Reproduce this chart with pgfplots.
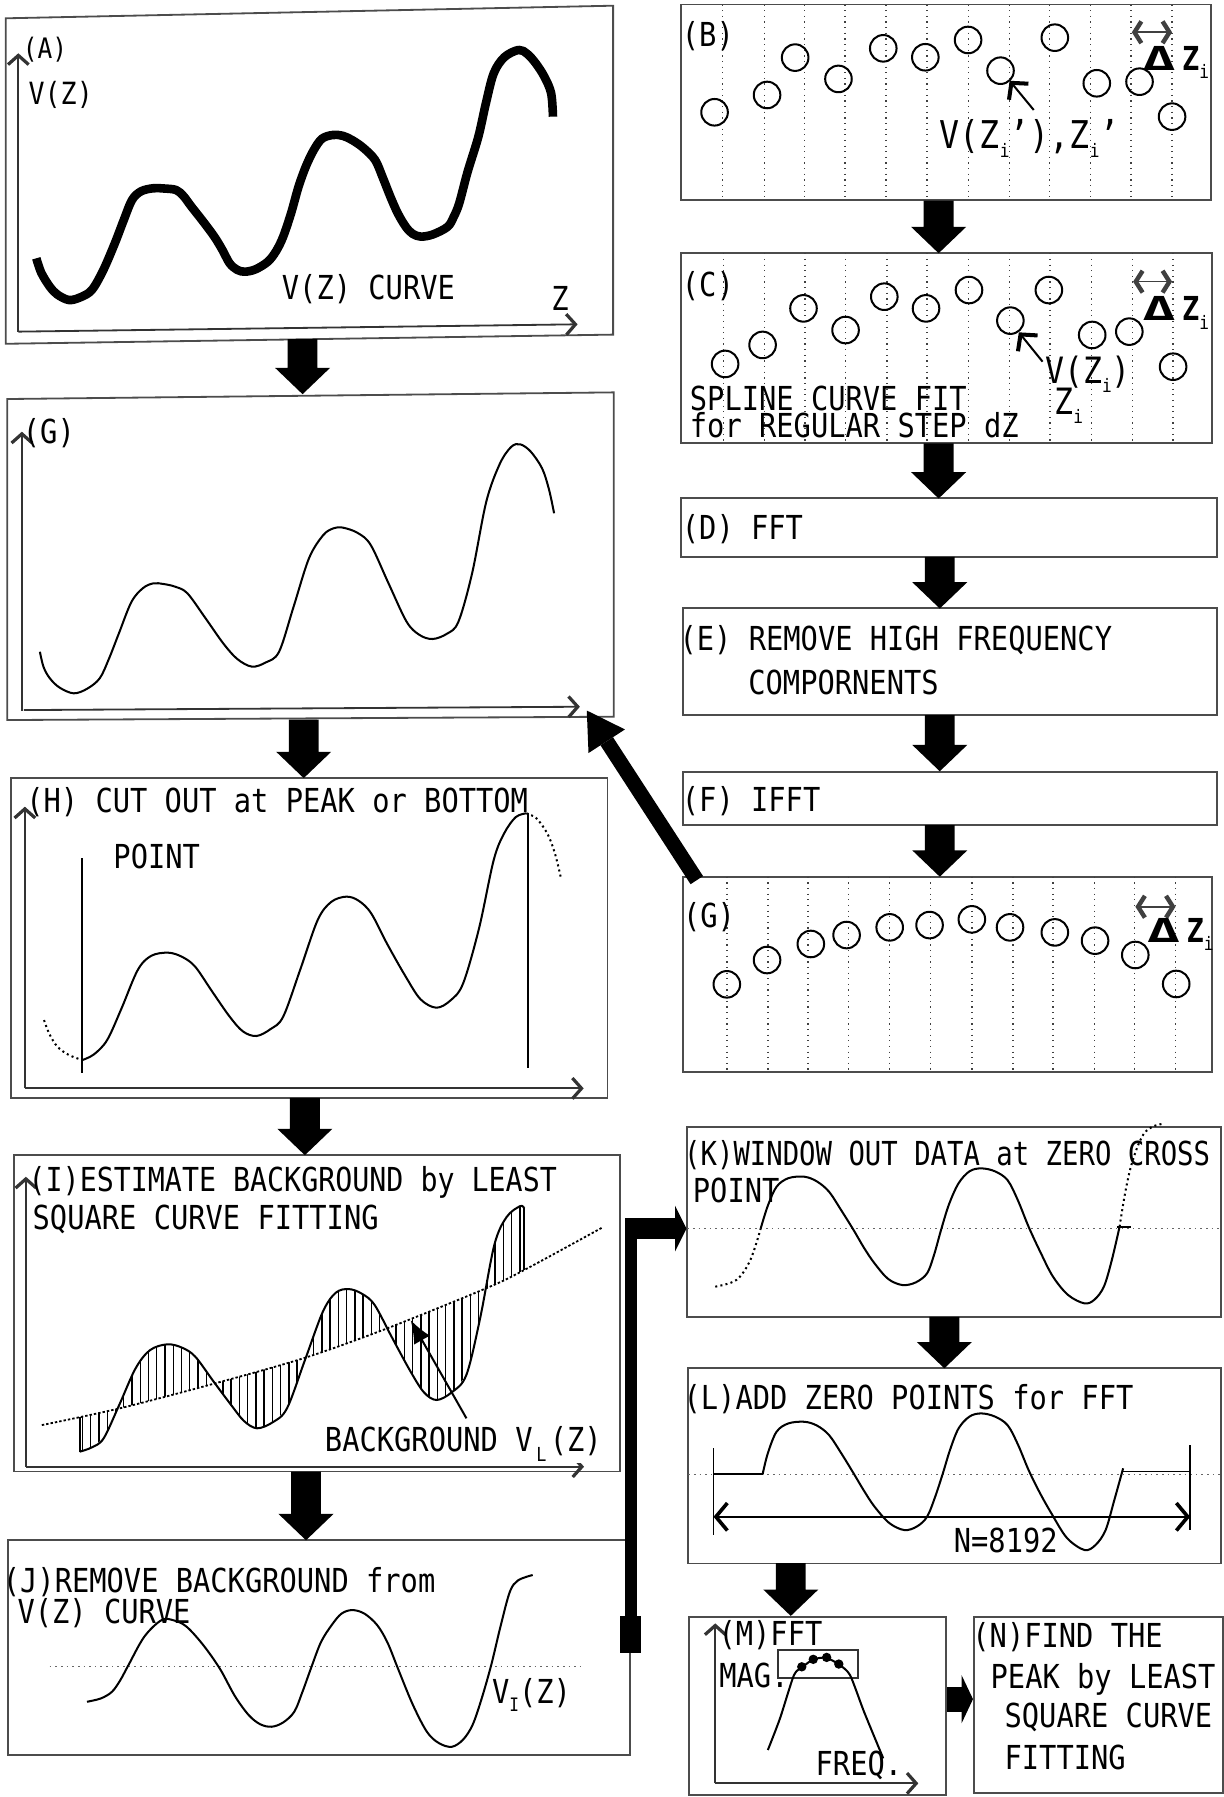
\documentclass[border=0pt]{standalone}
\usepackage{pgfplots}
\pgfplotsset{compat=1.18}
\usepgfplotslibrary{fillbetween}
\usetikzlibrary{arrows.meta,patterns.meta}
\usepackage{fontspec}
\setmainfont{DejaVu Sans Mono}[FakeStretch=0.87]
\newcommand{\ft}{\fontsize{8.2pt}{9pt}\selectfont}
\newcommand{\sbs}[1]{\raisebox{-0.25em}{\fontsize{4.6pt}{5pt}\selectfont #1}}
\newcommand{\ssl}[1]{\rlap{\raisebox{-0.32em}{\fontsize{4.8pt}{5pt}\selectfont\hspace{0.2em}#1}}\hphantom{#1}}
\newcommand{\dz}{\textbf{\scalebox{1.9}[1.0]{Δ}\hspace{0.2em}Z}\sbs{i}}
\tikzset{
  t/.style={font=\ft, inner sep=0pt, outer sep=0pt, anchor=base west},
  box/.style={draw=black!70, line width=0.45pt},
  crv/.style={line width=0.5pt, black, smooth, tension=0.55},
  grd/.style={line width=0.4pt, black!75, dash pattern=on 0.3pt off 1.1pt},
  zer/.style={line width=0.35pt, black!60, dash pattern=on 0.4pt off 1pt},
  axa/.style={line width=0.45pt, black!80, -{Straight Barb[length=0.8mm,width=1.8mm,line width=0.8pt]}},
  dza/.style={line width=0.4pt, black!75, {Straight Barb[length=0.6mm,width=1.9mm,line width=1.1pt]}-{Straight Barb[length=0.6mm,width=1.9mm,line width=1.1pt]}},
  circ/.style={only marks, mark=o, mark size=3.3pt, mark options={line width=0.5pt, black}},
}
\newcommand{\darrow}[3]{%
\fill ([xshift=-1.3mm]axis cs:#1,#2) -- ([xshift=1.3mm]axis cs:#1,#2) -- ([shift={(1.3mm,2.3mm)}]axis cs:#1,#3) -- ([shift={(2.4mm,2.3mm)}]axis cs:#1,#3) -- (axis cs:#1,#3) -- ([shift={(-2.4mm,2.3mm)}]axis cs:#1,#3) -- ([shift={(-1.3mm,2.3mm)}]axis cs:#1,#3) -- cycle;}
\begin{document}
\begin{tikzpicture}
\begin{axis}[width=106.8mm, height=156.8mm, scale only axis,
  xmin=0, xmax=1068, ymin=0, ymax=1568, y dir=reverse,
  hide axis, clip=false]

% ---------------- boxes ----------------
\draw[box] (axis cs:5,16) -- (axis cs:535,5) -- (axis cs:535,292) -- (axis cs:5,300) -- cycle;
\draw[box] (axis cs:594,4) rectangle (axis cs:1057,174.5);
\draw[box] (axis cs:594.5,221) rectangle (axis cs:1057.6,386.8);
\draw[box] (axis cs:594.5,434.8) rectangle (axis cs:1061.8,485.8);
\draw[box] (axis cs:595.7,530.8) rectangle (axis cs:1061.8,624);
\draw[box] (axis cs:595.7,673.4) rectangle (axis cs:1061.8,719.9);
\draw[box] (axis cs:595.7,765) rectangle (axis cs:1057.8,935.1);
\draw[box] (axis cs:6.3,348.2) -- (axis cs:535.6,342.4) -- (axis cs:535.6,625.4) -- (axis cs:6.3,628.3) -- cycle;
\draw[box] (axis cs:9.3,679.2) rectangle (axis cs:530,958);
\draw[box] (axis cs:12.2,1007.9) rectangle (axis cs:540.9,1284);
\draw[box] (axis cs:7.2,1343.8) rectangle (axis cs:549.8,1531.4);
\draw[box] (axis cs:599.7,983.1) rectangle (axis cs:1065.4,1148.9);
\draw[box] (axis cs:600.6,1194) rectangle (axis cs:1065.4,1364.2);
\draw[box] (axis cs:601.2,1410.7) rectangle (axis cs:825.7,1566.3);
\draw[box] (axis cs:850.1,1410.7) rectangle (axis cs:1067,1564.8);

% ---------------- block arrows ----------------
\darrow{264}{296}{344}
\darrow{819}{175}{221}
\darrow{819}{387}{435}
\darrow{820}{486}{531}
\darrow{820}{624}{673}
\darrow{820}{720}{765}
\darrow{265}{628}{679}
\darrow{266}{958}{1008}
\darrow{267}{1284}{1344}
\darrow{824}{1149}{1194}
\darrow{690}{1364}{1410}
% diagonal arrow G(right) -> G(left)
\draw[line width=1.3mm] (axis cs:608,768) -- (axis cs:529.4,646.8);
\fill (axis cs:512,620) -- (axis cs:545.3,636.5) -- (axis cs:513.5,657.1) -- cycle;
% J -> K connector
\fill (axis cs:541,1442) rectangle (axis cs:559,1410);
\fill (axis cs:545,1415) rectangle (axis cs:556,1063);
\fill (axis cs:545,1063) rectangle (axis cs:590,1081);
\fill (axis cs:589,1052) -- (axis cs:599,1072) -- (axis cs:589,1092) -- cycle;
% M -> N
\fill (axis cs:826,1471.6) rectangle (axis cs:839.4,1493.4);
\fill (axis cs:839,1461.6) -- (axis cs:849,1482.6) -- (axis cs:839,1503.8) -- cycle;

% ---------------- panel A ----------------
\addplot[axa] coordinates {(16,289.4) (16,46.5)};
\addplot[axa] coordinates {(16,289.4) (504,283)};
\addplot[line width=0.75mm, black, smooth, tension=0.55, line join=round] coordinates {
(31.7,225.4) (36,238) (43.4,250.1) (50,257) (60.1,261.8) (70,259.5) (80.1,253.1) (90,236) (100.2,212.3) (108,192) (115.2,174.5) (123,167) (133.6,164.3) (143,164.5) (153.6,165.8) (160,171) (167,180.3) (177,193) (187,206.5) (194,218) (200.4,229.8) (207,235.5) (213.7,237.1) (223,235) (233.8,228.3) (241,219) (247.1,206.5) (254,186) (260.5,162.9) (267,145) (273.8,130.9) (281,121) (290.5,117.8) (299,118.5) (307.2,122.2) (317,129) (327.3,139.6) (334,155) (340.6,171.6) (347,186) (354,197.8) (360,204) (367.3,206.5) (378,204.5) (390.7,197.8) (396,189) (400.7,177.4) (408,150) (417.4,119.3) (424,90) (430.8,64) (440,50) (452.5,43.6) (460,47) (467.5,55.3) (475,67) (480.9,81.4) (482.5,101.8)};
\node[t] at (axis cs:20,51) {\fontsize{7pt}{8pt}\selectfont (A)};
\node[t] at (axis cs:25,91.5) {\fontsize{7.6pt}{8pt}\selectfont V(Z)};
\node[t] at (axis cs:246,261) {V(Z) CURVE};
\node[t] at (axis cs:481,271) {Z};

% ---------------- panel B ----------------
\pgfplotsinvokeforeach{630.3,666.9,702.0,737.1,773.1,808.9,844.9,880.7,915.8,951.6,986.9,1022.7}{
  \addplot[grd] coordinates {(#1,4) (#1,174.5)};}
\addplot[circ] coordinates {(623.5,98) (669.3,82.9) (693.8,50.3) (731.6,68.9) (770.7,42.2) (807.4,50) (844.7,34.9) (873,61.7) (920.4,32.9) (957,72.7) (994.3,71.3) (1022.7,101.8)};
\node[t] at (axis cs:595,41) {(B)};
\addplot[dza] coordinates {(987.6,28.2) (1022.7,28.2)};
\node[t] at (axis cs:997,61.7) {\dz};
\addplot[line width=0.5pt, -{Straight Barb[length=1mm,width=2.2mm,line width=1pt]}] coordinates {(902,96) (881,70.5)};
\node[t] at (axis cs:820,129.4) {\fontsize{9.5pt}{10pt}\selectfont V(Z\sbs{i}'),Z\sbs{i}'};

% ---------------- panel C ----------------
\pgfplotsinvokeforeach{631.2,666.9,702.6,737.8,773.8,808.9,844.9,880.7,916.4,952.4,988.2,1023.6}{
  \addplot[grd] coordinates {(#1,221) (#1,386.8)};}
\addplot[circ] coordinates {(632.7,317.6) (665.4,301) (701.1,269.1) (737.8,288) (771.6,258.9) (808,269.1) (845.5,253.1) (881.6,279.8) (915.2,253.1) (953,292.3) (985.4,289.4) (1023.6,320)};
\node[t] at (axis cs:595,259) {(C)};
\addplot[dza] coordinates {(988.7,245.8) (1022.7,245.8)};
\node[t] at (axis cs:997,280) {\dz};
\addplot[line width=0.5pt, -{Straight Barb[length=1mm,width=2.2mm,line width=1pt]}] coordinates {(909.7,315.6) (889,290)};
\node[t] at (axis cs:912,335) {\fontsize{9pt}{10pt}\selectfont V(Z\sbs{i})};
\node[t] at (axis cs:920,362) {\fontsize{9pt}{10pt}\selectfont Z\sbs{i}};
\node[t] at (axis cs:602,357.8) {SPLINE CURVE FIT};
\node[t] at (axis cs:602,381.9) {for REGULAR STEP dZ};

% ---------------- D E F ----------------
\node[t] at (axis cs:595,470.6) {(D) FFT};
\node[t] at (axis cs:593,568) {(E) REMOVE HIGH FREQUENCY};
\node[t] at (axis cs:653,605.6) {COMPORNENTS};
\node[t] at (axis cs:595,707.7) {(F) IFFT};

% ---------------- panel G right ----------------
\pgfplotsinvokeforeach{634.2,670,705.1,740.2,776.3,812,848,883.8,918.8,954.9,990,1025.7}{
  \addplot[grd] coordinates {(#1,765) (#1,935.1)};}
\addplot[circ] coordinates {(634.2,858.9) (669.3,837.7) (707.5,823.7) (738.7,815.9) (776.3,809.2) (811.1,807.2) (848,802.2) (881.3,809.2) (920.4,813.6) (955.5,820.8) (990.6,833.3) (1026.3,858.6)};
\node[t] at (axis cs:596,809.2) {(G)};
\addplot[dza] coordinates {(990.7,791.2) (1025.7,791.2)};
\node[t] at (axis cs:1001,822.6) {\dz};

% ---------------- panel G left ----------------
\addplot[axa] coordinates {(19.1,620.4) (19.1,376.7)};
\addplot[axa] coordinates {(20.9,619.6) (506,616.7)};
\addplot[crv] coordinates {
(34.8,568.7) (38,582) (43.5,591.9) (52,600) (64.3,605) (76,601) (87,591.9) (95,575) (104,552) (114.8,525) (125,513) (134,509) (142.6,509.6) (153,512) (163.5,517.7) (179,539) (194.8,561.4) (207,575) (219.8,581.7) (232,578) (243.5,568.7) (256,530) (269.6,487.2) (282,467) (291,461) (299.1,460.4) (312,465) (323.5,475.6) (339,509) (354.8,542.5) (366,554) (377.4,557.6) (390,553) (400,542.5) (412,500) (424.3,437.8) (436,405) (446,390) (453.9,387.7) (463,394) (473,408.7) (479,427) (483.5,447.9)};
\node[t] at (axis cs:20,386.8) {(G)};

% ---------------- panel H ----------------
\addplot[axa] coordinates {(21.7,949.7) (21.7,703.9)};
\addplot[axa] coordinates {(21.7,949.7) (509.3,949.7)};
\addplot[line width=0.5pt] coordinates {(71.8,749) (71.8,936.6)};
\addplot[line width=0.5pt] coordinates {(460.8,709.7) (460.8,932.2)};
\addplot[crv] coordinates {
(71.8,925) (82,920) (93.5,907.5) (106,880) (120.2,846.4) (132,834) (146.9,831.3) (159,835) (170.3,843.5) (185,865) (200.4,887.1) (212,900) (223.7,904) (236,898) (247.1,887.1) (262,846) (277.2,802.8) (289,787) (302.2,782.4) (313,786) (323.9,797) (338,824) (354,852.2) (367,872) (380.7,879.3) (393,873) (404.1,858.1) (418,810) (430.8,750.4) (440,727) (450,713) (459.2,709.7)};
\addplot[crv, dash pattern=on 0.5pt off 0.8pt] coordinates {(38.4,890.1) (43,902) (50.1,913.3) (60,920.5) (71.8,925)};
\addplot[crv, dash pattern=on 0.5pt off 0.8pt] coordinates {(459.2,709.7) (468,714) (477.5,727.2) (484,744) (489.2,765)};
\node[t] at (axis cs:23,709.1) {(H) CUT OUT at PEAK or BOTTOM};
\node[t] at (axis cs:99,757.7) {POINT};

% ---------------- panel I ----------------
\addplot[axa] coordinates {(22.6,1279.8) (22.6,1026.8)};
\addplot[axa] coordinates {(22.6,1279.8) (509.6,1279.8)};
% straight-segment copies of the two curves, used only to bound the hatching
\addplot[draw=none, name path=Ic] coordinates {
(69.6,1266.7) (80,1263) (90.4,1255.1) (97,1242) (104,1226) (111,1209) (118.3,1194) (124,1185) (131,1178) (138,1174.5) (146.1,1173) (153,1174) (159,1176) (165,1179.5) (170.4,1183.8) (178,1194) (186,1205) (194,1216) (201.7,1226) (207,1234) (213,1240) (219,1244.5) (224.3,1246.3) (231,1245) (238,1241) (244,1236) (250.4,1228.9) (258,1209) (266,1187) (274,1164) (281.7,1144.6) (287,1134) (293,1128) (299,1125) (304.4,1124.8) (310,1126) (316,1129) (321,1133) (326.9,1138.7) (334,1151) (342,1167) (350,1182) (358.3,1196.9) (364,1207) (370,1215) (375,1219.5) (380.9,1221.6) (387,1220) (394,1215) (400,1209) (406.9,1199.8) (413,1178) (419,1150) (425,1117) (431.3,1086.4) (436,1072) (442,1062) (447,1056) (453.9,1052.4) (457.4,1054.4)};
\addplot[draw=none, name path=Ib] coordinates {
(36.5,1243.5) (70,1236.5) (104.4,1228.9) (144,1218.8) (184.3,1208) (224,1196.9) (264.4,1185.3) (300,1173) (333.9,1160.6) (380,1142.5) (422.6,1124.8) (455.7,1109.1) (490,1091) (525.2,1071.3)};
\addplot[draw=none, pattern={Lines[angle=90,distance=0.72mm,line width=0.35pt]}, pattern color=black] fill between[of=Ic and Ib, soft clip={domain=69.6:457.4}];
\addplot[crv] coordinates {
(69.6,1266.7) (80,1263) (90.4,1255.1) (104,1226) (118.3,1194) (131,1178) (146.1,1173) (159,1176) (170.4,1183.8) (186,1205) (201.7,1226) (213,1240) (224.3,1246.3) (238,1241) (250.4,1228.9) (266,1187) (281.7,1144.6) (293,1128) (304.4,1124.8) (316,1129) (326.9,1138.7) (342,1167) (358.3,1196.9) (370,1215) (380.9,1221.6) (394,1215) (406.9,1199.8) (419,1150) (431.3,1086.4) (442,1062) (453.9,1052.4) (457.4,1054.4)};
\addplot[line width=0.45pt, smooth, dash pattern=on 0.6pt off 0.5pt] coordinates {
(36.5,1243.5) (104.4,1228.9) (184.3,1208) (264.4,1185.3) (333.9,1160.6) (422.6,1124.8) (455.7,1109.1) (525.2,1071.3)};
\addplot[line width=0.4pt] coordinates {(69.6,1266.7) (69.6,1236.4)};
\addplot[line width=0.4pt] coordinates {(457.4,1054.4) (457.4,1108.2)};
\addplot[line width=0.5pt, -{Latex[length=2mm,width=1.6mm]}] coordinates {(407,1237.6) (358.3,1151.9)};
\node[t] at (axis cs:25,1039.9) {\scalebox{0.985}[1]{(I)ESTIMATE BACKGROUND by LEAST}};
\node[t] at (axis cs:28.5,1072.4) {SQUARE CURVE FITTING};
\node[t, fill=white, inner sep=0.3pt] at (axis cs:282.5,1266.1) {BACKGROUND V\ssl{L}(Z)};

% ---------------- panel J ----------------
\addplot[zer] coordinates {(43.4,1454.3) (510,1454.3)};
\addplot[crv] coordinates {
(75.9,1484.9) (88,1482) (97.7,1476.2) (105,1466) (112.1,1452.9) (126,1428) (141.1,1413.6) (152,1414) (162.8,1419.4) (177,1435) (191.7,1455.8) (205,1480) (217,1496.5) (227,1504.5) (236.9,1506.7) (247,1503) (256.8,1493.6) (264,1476) (271.3,1455.8) (280,1433) (289.4,1418) (298,1408) (307.4,1404.9) (318,1408) (329.1,1418) (338,1433) (347.2,1455.8) (360,1487) (372.5,1511.1) (383,1521) (394.2,1524.2) (404,1518) (412.3,1505.2) (420,1483) (428.6,1452.9) (437,1418) (444.9,1388.9) (452,1379) (464.8,1374.3)};
\node[t] at (axis cs:2.5,1389.8) {(J)REMOVE BACKGROUND from};
\node[t] at (axis cs:15.3,1416.5) {V(Z) CURVE};
\node[t] at (axis cs:429.4,1486.3) {V\sbs{I}(Z)};

% ---------------- panel K ----------------
\addplot[zer] coordinates {(599.7,1071.8) (1065.4,1071.8)};
\addplot[crv, dash pattern=on 0.5pt off 0.8pt] coordinates {(624.1,1122.7) (642.5,1116.9) (654.7,1099.5) (663.8,1071.8)};
\addplot[crv] coordinates {
(663.8,1071.8) (670,1052) (677.6,1035.5) (688,1028) (702,1026.8) (713,1031) (723.4,1039.9) (734,1056) (744.8,1073.3) (754,1089) (763.1,1102.4) (775,1116) (787.5,1121.3) (799,1119) (808.9,1111.1) (815,1095) (821.1,1073.3) (828,1051) (836.4,1032.5) (846,1022) (856.2,1019.5) (868,1022) (879.1,1029.7) (888,1047) (897.5,1070.4) (908,1093) (918.8,1114) (932,1130) (946.3,1137.3) (955,1134) (963.2,1122.7) (970,1100) (976.9,1070.4)};
\addplot[crv, dash pattern=on 0.5pt off 0.8pt] coordinates {(976.9,1070.4) (981,1045) (986,1020.9) (992,1002) (998.3,988.9) (1006,983) (1013.5,980.8)};
\addplot[line width=0.4pt] coordinates {(975,1070.4) (987,1070.4)};
\node[t] at (axis cs:597,1016.6) {\scalebox{0.95}[1]{(K)WINDOW OUT DATA at ZERO CROSS}};
\node[t] at (axis cs:604.6,1049.4) {POINT};

% ---------------- panel L ----------------
\addplot[zer] coordinates {(600.6,1286.5) (1065.4,1286.5)};
\addplot[line width=0.45pt] coordinates {(622.6,1286.5) (665.4,1286.5)};
\addplot[line width=0.45pt] coordinates {(980,1284) (1038,1284)};
\addplot[line width=0.45pt] coordinates {(622.6,1263.8) (622.6,1339.4)};
\addplot[line width=0.45pt] coordinates {(1038,1261) (1038,1335)};
\addplot[line width=0.4pt, {Straight Barb[length=1mm,width=2.4mm,line width=0.9pt]}-{Straight Barb[length=1mm,width=2.4mm,line width=0.9pt]}] coordinates {(622.6,1323.5) (1038.5,1323.5)};
\addplot[crv] coordinates {
(665.4,1286.5) (670,1268) (677.6,1249.3) (688,1242) (702,1240.6) (713,1244) (723.4,1252.2) (734,1268) (744.8,1285.6) (754,1301) (763.1,1314.7) (776,1329) (789.1,1335.1) (800,1332) (808.9,1323.5) (816,1306) (822.7,1285.6) (829,1265) (836.4,1246.4) (846,1236) (856.2,1233.3) (868,1236) (879.1,1243.5) (888,1260) (897.5,1282.7) (907,1302) (917.4,1320.5) (931,1342) (946.3,1352.5) (956,1348) (964.7,1335.1) (972,1310) (980,1281.2)};
\node[t] at (axis cs:596.5,1229.8) {(L)ADD ZERO POINTS for FFT};
\node[t] at (axis cs:832.3,1354.9) {N=8192};

% ---------------- panel M ----------------
\addplot[axa] coordinates {(624.1,1556.1) (624.1,1416.5)};
\addplot[axa] coordinates {(624.1,1556.1) (801.3,1556.1)};
\draw[line width=0.45pt, black!80] (axis cs:678.5,1439.8) rectangle (axis cs:748.4,1464.5);
\addplot[line width=0.5pt, smooth, tension=0.4] coordinates {(670,1527) (680.6,1499.4) (692.8,1461.6) (700.5,1454.4) (709.6,1447.9) (720.9,1446.5) (731.9,1452.3) (741.7,1461.6) (753.9,1493.6) (770.7,1534.3)};
\addplot[only marks, mark=*, mark size=0.95pt, mark options={black}] coordinates {(699.6,1454.4) (709.6,1447.9) (721.3,1446.2) (731.9,1452)};
\node[t] at (axis cs:627,1436) {(M)FFT};
\node[t] at (axis cs:627.7,1472.7) {MAG.};
\node[t] at (axis cs:711.7,1549.4) {FREQ.};

% ---------------- panel N ----------------
\node[t] at (axis cs:848.5,1437.7) {(N)FIND THE};
\node[t] at (axis cs:864.4,1473) {PEAK by LEAST};
\node[t] at (axis cs:876.6,1507.6) {SQUARE CURVE};
\node[t] at (axis cs:876.6,1543.9) {FITTING};
\end{axis}
\pgfresetboundingbox
\path (current axis.south west) rectangle (current axis.north east);
\end{tikzpicture}
\end{document}
